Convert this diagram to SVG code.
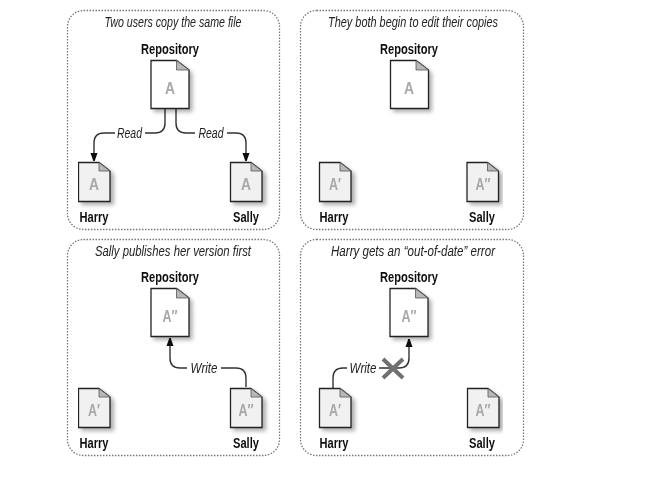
<svg xmlns="http://www.w3.org/2000/svg" width="650" height="485" viewBox="0 0 650 485">
<style>
.panel{fill:#fff;stroke:#777;stroke-width:1.300;stroke-dasharray:1.500 1.500}
.t{font-family:"Liberation Sans",Arial,sans-serif;text-anchor:middle}
.title{font-size:14px;font-style:italic;fill:#222}
.name{font-size:14.500px;font-weight:bold;fill:#111}
.lab{font-size:14px;font-style:italic;fill:#222}
.a{font-size:17px;font-weight:bold;fill:#a8a8a8}
.conn{fill:none;stroke:#333;stroke-width:1.400}
.page{stroke:#222;stroke-width:1.300;stroke-linejoin:miter}
.fold{fill:#b8b8b8;stroke:#555;stroke-width:.8}
.sh{fill:#000;opacity:.32;filter:url(#b)}
</style>
<defs>
<filter id="b" x="-30%" y="-30%" width="160%" height="160%"><feGaussianBlur stdDeviation="2"/></filter>
<filter id="soft" x="0" y="0" width="100%" height="100%"><feGaussianBlur stdDeviation="0.35"/></filter>
<marker id="arr" markerWidth="8" markerHeight="11" refX="8" refY="4" orient="auto" markerUnits="userSpaceOnUse"><path d="M0 0.500L10 4L0 7.500z" fill="#111"/></marker>
<symbol id="big" width="50" height="60" overflow="visible"><path class="sh" d="M3 3H29L42 13V52H3z"/><path class="page" fill="#fff" d="M0.500 0.500H26L38.500 10V48.500H0.500z"/><path class="fold" d="M26 0.500V10H38.500z"/></symbol>
<symbol id="small" width="44" height="50" overflow="visible"><path class="sh" d="M3 3H24L36 12V43H3z"/><path class="page" fill="#f1f1f1" d="M0.500 0.500H21L32 9V39.500H0.500z"/><path class="fold" d="M21 0.500V9H32z"/></symbol>
</defs>
<rect class="panel" x="67.500" y="10.500" width="212" height="219" rx="16"/>
<rect class="panel" x="300.500" y="10.500" width="223" height="219" rx="16"/>
<rect class="panel" x="67.500" y="239.500" width="212" height="216" rx="16"/>
<rect class="panel" x="300.500" y="239.500" width="223" height="216" rx="16"/>
<g filter="url(#soft)">
<g id="connectors">
<path class="conn" marker-end="url(#arr)" d="M165 108V123Q165 133 155 133H145M115 133H104Q94 133 94 143V161"/>
<path class="conn" marker-end="url(#arr)" d="M176 108V123Q176 133 186 133H195M227 133H236Q246 133 246 143V161"/>
<path class="conn" marker-end="url(#arr)" d="M246 387V378Q246 368 236 368H221M187 368H180Q170 368 170 358V338"/>
<path class="conn" marker-end="url(#arr)" d="M333 388V378Q333 368 343 368H347M379 368H399Q409 368 409 358V339"/>
<path d="M383 359L403 378M403 359L383 378" fill="none" stroke="#707070" stroke-width="4"/>
</g>

<text class="t title" x="173" y="27" textLength="137" lengthAdjust="spacingAndGlyphs">Two users copy the same file</text>
<text class="t title" x="413" y="27" textLength="170" lengthAdjust="spacingAndGlyphs">They both begin to edit their copies</text>
<text class="t title" x="173" y="256" textLength="156" lengthAdjust="spacingAndGlyphs">Sally publishes her version first</text>
<text class="t title" x="413" y="256" textLength="164" lengthAdjust="spacingAndGlyphs">Harry gets an “out-of-date” error</text>

<g id="p1-repo"><text class="t name" x="170" y="54" textLength="58" lengthAdjust="spacingAndGlyphs">Repository</text><use href="#big" x="150.500" y="60"/><text class="t a" x="170" y="94" textLength="10" lengthAdjust="spacingAndGlyphs">A</text></g>
<g id="p1-harry"><use href="#small" x="78" y="162"/><text class="t a" x="94" y="190" textLength="10" lengthAdjust="spacingAndGlyphs">A</text><text class="t name" x="94" y="222" textLength="29" lengthAdjust="spacingAndGlyphs">Harry</text></g>
<g id="p1-sally"><use href="#small" x="230" y="162"/><text class="t a" x="246" y="190" textLength="10" lengthAdjust="spacingAndGlyphs">A</text><text class="t name" x="246" y="222" textLength="26" lengthAdjust="spacingAndGlyphs">Sally</text></g>
<text class="t lab" x="129.500" y="138" textLength="25" lengthAdjust="spacingAndGlyphs">Read</text>
<text class="t lab" x="211" y="138" textLength="25" lengthAdjust="spacingAndGlyphs">Read</text>

<g id="p2-repo"><text class="t name" x="409" y="54" textLength="58" lengthAdjust="spacingAndGlyphs">Repository</text><use href="#big" x="390" y="60"/><text class="t a" x="409" y="94" textLength="10" lengthAdjust="spacingAndGlyphs">A</text></g>
<g id="p2-harry"><use href="#small" x="319" y="162"/><text class="t a" x="335" y="190" textLength="12" lengthAdjust="spacingAndGlyphs">A′</text><text class="t name" x="334" y="222" textLength="29" lengthAdjust="spacingAndGlyphs">Harry</text></g>
<g id="p2-sally"><use href="#small" x="466.500" y="162"/><text class="t a" x="483" y="190" textLength="15" lengthAdjust="spacingAndGlyphs">A″</text><text class="t name" x="482" y="222" textLength="26" lengthAdjust="spacingAndGlyphs">Sally</text></g>

<g id="p3-repo"><text class="t name" x="170" y="282" textLength="58" lengthAdjust="spacingAndGlyphs">Repository</text><use href="#big" x="150.500" y="288"/><text class="t a" x="170" y="322" textLength="15" lengthAdjust="spacingAndGlyphs">A″</text></g>
<g id="p3-harry"><use href="#small" x="78" y="388"/><text class="t a" x="94" y="416" textLength="12" lengthAdjust="spacingAndGlyphs">A′</text><text class="t name" x="94" y="448" textLength="29" lengthAdjust="spacingAndGlyphs">Harry</text></g>
<g id="p3-sally"><use href="#small" x="230" y="388"/><text class="t a" x="246" y="416" textLength="15" lengthAdjust="spacingAndGlyphs">A″</text><text class="t name" x="246" y="448" textLength="26" lengthAdjust="spacingAndGlyphs">Sally</text></g>
<text class="t lab" x="204" y="373" textLength="27" lengthAdjust="spacingAndGlyphs">Write</text>

<g id="p4-repo"><text class="t name" x="409" y="282" textLength="58" lengthAdjust="spacingAndGlyphs">Repository</text><use href="#big" x="389.500" y="288"/><text class="t a" x="409" y="322" textLength="15" lengthAdjust="spacingAndGlyphs">A″</text></g>
<g id="p4-harry"><use href="#small" x="319" y="388"/><text class="t a" x="335" y="416" textLength="12" lengthAdjust="spacingAndGlyphs">A′</text><text class="t name" x="334" y="448" textLength="29" lengthAdjust="spacingAndGlyphs">Harry</text></g>
<g id="p4-sally"><use href="#small" x="467" y="388"/><text class="t a" x="483" y="416" textLength="15" lengthAdjust="spacingAndGlyphs">A″</text><text class="t name" x="482" y="448" textLength="26" lengthAdjust="spacingAndGlyphs">Sally</text></g>
<text class="t lab" x="363" y="373" textLength="27" lengthAdjust="spacingAndGlyphs">Write</text>
</g>
</svg>
